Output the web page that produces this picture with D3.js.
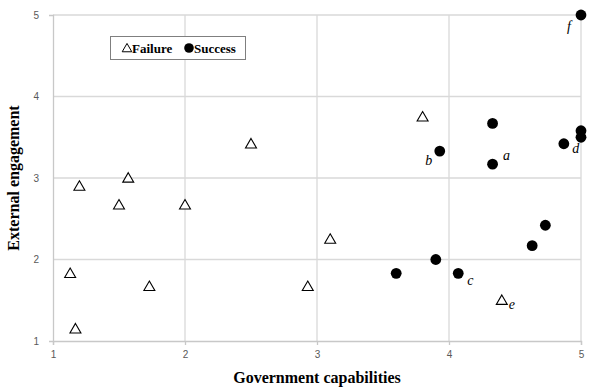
<!DOCTYPE html>
<html><head><meta charset="utf-8">
<script src="https://cdn.jsdelivr.net/npm/d3@7/dist/d3.min.js"></script>
<style>body{margin:0;background:#fff}svg{display:block}</style>
</head><body>
<script>
const failureX = [1.13, 1.17, 1.2, 1.5, 1.57, 1.73, 2.0, 2.5, 2.93, 3.1, 3.8, 4.4];
const failureY = [1.83, 1.15, 2.9, 2.67, 3.0, 1.67, 2.67, 3.42, 1.67, 2.25, 3.75, 1.5];
const successX = [5.0, 4.33, 3.93, 4.33, 4.87, 5.0, 5.0, 3.6, 3.9, 4.07, 4.63, 4.73];
const successY = [5.0, 3.67, 3.33, 3.17, 3.42, 3.58, 3.5, 1.83, 2.0, 1.83, 2.17, 2.42];
const pointLabels = [
  {text: "a", x: 4.33, y: 3.17, dx: 14, dy: -4},
  {text: "b", x: 3.93, y: 3.33, dx: -11, dy: 14},
  {text: "c", x: 4.07, y: 1.83, dx: 12, dy: 12},
  {text: "d", x: 4.87, y: 3.42, dx: 12, dy: 9},
  {text: "e", x: 4.4, y: 1.5, dx: 10, dy: 9},
  {text: "f", x: 5.0, y: 5.0, dx: -12, dy: 16}
];
const xTicks = [1, 2, 3, 4, 5];
const yTicks = [1, 2, 3, 4, 5];
const xTitle = "Government capabilities";
const yTitle = "External engagement";
const seriesNames = ["Failure", "Success"];

const W = 592, H = 391;
const svg = d3.select("body").append("svg").attr("width", W).attr("height", H);
const x = d3.scaleLinear().domain([1, 5]).range([53, 581]);
const y = d3.scaleLinear().domain([1, 5]).range([341, 15]);
const grid = "#d9d9d9";

svg.append("g").selectAll("line").data(xTicks.slice(1)).join("line")
  .attr("x1", d => x(d)).attr("x2", d => x(d)).attr("y1", y(1)).attr("y2", y(5))
  .attr("stroke", grid).attr("stroke-width", 1.3);
svg.append("g").selectAll("line").data(yTicks.slice(1)).join("line")
  .attr("x1", x(1)).attr("x2", x(5)).attr("y1", d => y(d)).attr("y2", d => y(d))
  .attr("stroke", grid).attr("stroke-width", 1.3);

const xAxis = svg.append("g").attr("transform", `translate(0,${y(1)})`)
  .call(d3.axisBottom(x).tickValues(xTicks).tickFormat(d3.format("d")).tickSize(4).tickPadding(6));
const yAxis = svg.append("g").attr("transform", `translate(${x(1)},0)`)
  .call(d3.axisLeft(y).tickValues(yTicks).tickFormat(d3.format("d")).tickSize(4).tickPadding(10));
[xAxis, yAxis].forEach(g => {
  g.select(".domain").attr("stroke", "#c8c8c8").attr("stroke-width", 1.3);
  g.selectAll(".tick line").attr("stroke", "#c8c8c8").attr("stroke-width", 1.3);
  g.selectAll(".tick text").attr("fill", "#595959").attr("font-family", "Liberation Sans, Arial, sans-serif").attr("font-size", 10);
});
yAxis.selectAll(".tick line").attr("x2", 0);

const tri = d3.symbol().type(d3.symbolTriangle).size(52);
svg.append("g").selectAll("path").data(failureX.map((v, i) => [v, failureY[i]])).join("path")
  .attr("d", tri)
  .attr("transform", d => `translate(${x(d[0])},${y(d[1]) + 1})`)
  .attr("fill", "#fff").attr("stroke", "#000").attr("stroke-width", 1.1);
svg.append("g").selectAll("circle").data(successX.map((v, i) => [v, successY[i]])).join("circle")
  .attr("cx", d => x(d[0])).attr("cy", d => y(d[1])).attr("r", 5.4).attr("fill", "#000");

svg.append("g").selectAll("text").data(pointLabels).join("text")
  .attr("x", d => x(d.x) + d.dx).attr("y", d => y(d.y) + d.dy)
  .attr("text-anchor", "middle").attr("fill", "#000")
  .attr("font-family", "Liberation Serif, Times New Roman, serif").attr("font-style", "italic")
  .attr("font-size", 14).text(d => d.text);

svg.append("text").attr("x", 317).attr("y", 383).attr("text-anchor", "middle").attr("fill", "#000")
  .attr("font-family", "Liberation Serif, Times New Roman, serif").attr("font-weight", "bold")
  .attr("font-size", 16).text(xTitle);
svg.append("text").attr("transform", `translate(19,178) rotate(-90)`).attr("text-anchor", "middle").attr("fill", "#000")
  .attr("font-family", "Liberation Serif, Times New Roman, serif").attr("font-weight", "bold")
  .attr("font-size", 16).text(yTitle);

const lg = svg.append("g");
lg.append("rect").attr("x", 110.5).attr("y", 36.5).attr("width", 135).attr("height", 23)
  .attr("fill", "#fff").attr("stroke", "#7f7f7f").attr("stroke-width", 1);
lg.append("path").attr("d", d3.symbol().type(d3.symbolTriangle).size(40))
  .attr("transform", "translate(127,49)").attr("fill", "#fff").attr("stroke", "#000").attr("stroke-width", 1);
lg.append("text").attr("x", 132).attr("y", 52.5).attr("fill", "#000")
  .attr("font-family", "Liberation Serif, Times New Roman, serif").attr("font-weight", "bold")
  .attr("font-size", 13).text(seriesNames[0]);
lg.append("circle").attr("cx", 189).attr("cy", 48).attr("r", 4.8).attr("fill", "#000");
lg.append("text").attr("x", 194).attr("y", 52.5).attr("fill", "#000")
  .attr("font-family", "Liberation Serif, Times New Roman, serif").attr("font-weight", "bold")
  .attr("font-size", 13).text(seriesNames[1]);
</script>
</body></html>
